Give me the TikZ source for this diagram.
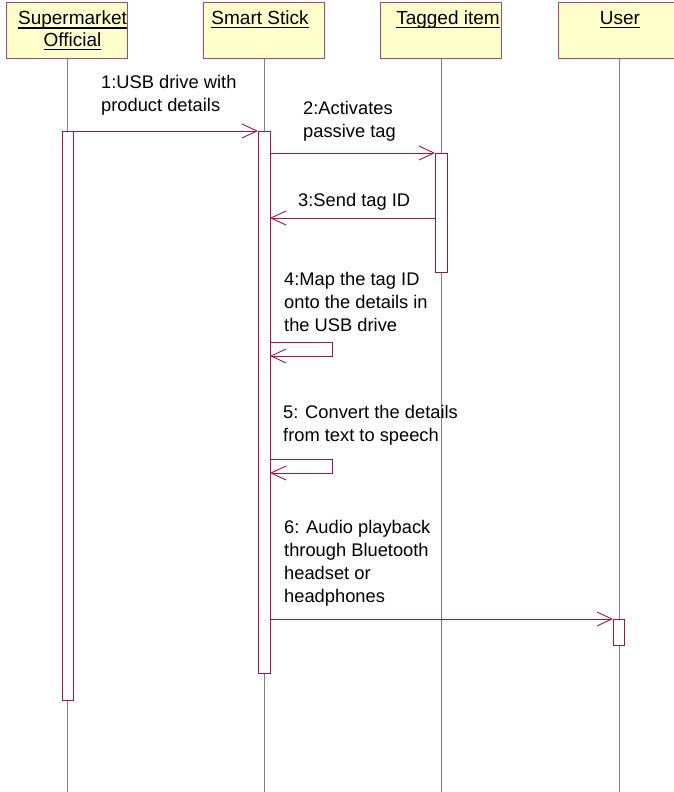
\documentclass[tikz,border=0pt]{standalone}
\usepackage{fontspec}
\setmainfont{Liberation Sans}
\usetikzlibrary{arrows.meta}
\definecolor{umlred}{HTML}{A31447}
\definecolor{umlfill}{HTML}{FFFFCC}
\newcommand\myul[1]{\setbox0\hbox{#1}\rlap{\raisebox{-3.5pt}{\rule{\wd0}{1.3pt}}}\box0}
\begin{document}
\begin{tikzpicture}[x=1pt,y=-1pt,
  head/.style={draw=umlred!80,fill=umlfill,line width=0.8pt,minimum width=121pt,minimum height=56pt,anchor=north,inner sep=0pt},
  headtxt/.style={anchor=base,align=center,font=\fontsize{19}{22}\selectfont,inner sep=0pt},
  life/.style={draw=gray,line width=0.8pt},
  bar/.style={draw=umlred,fill=white,line width=0.9pt},
  msg/.style={draw=umlred,line width=0.9pt,-{Straight Barb[length=15pt,width=14pt]}},
  lbl/.style={anchor=base west,align=left,font=\fontsize{18.3}{22.8}\selectfont,inner sep=0pt}]
\useasboundingbox (0,0) rectangle (674,792);
% heads
\node[head] (hA) at (67,2) {};
\node[head] (hB) at (264,2) {};
\node[head] (hC) at (441,2) {};
\node[head] (hD) at (619,2) {};
\node[headtxt] (tA) at (72.5,47) {\myul{Supermarket}\\\myul{Official}};
\node[headtxt] (tB) at (260,25) {\myul{Smart Stick}};
\node[headtxt] (tC) at (448,25) {\myul{Tagged item}};
\node[headtxt] (tD) at (620,25) {\myul{User}};
% lifelines
\coordinate (eA) at (67,792);
\coordinate (eB) at (264,792);
\coordinate (eC) at (441,792);
\coordinate (eD) at (619,792);
\draw[life] (hA.south) -- (eA);
\draw[life] (hB.south) -- (eB);
\draw[life] (hC.south) -- (eC);
\draw[life] (hD.south) -- (eD);
% activation bars
\draw[bar] (62,131) rectangle (73,700);
\draw[bar] (258,131) rectangle (270,673);
\draw[bar] (435,153) rectangle (447,272);
\draw[bar] (613,619) rectangle (624,645);
\coordinate (m1s) at (73,131); \coordinate (m1e) at (258,131);
\coordinate (m2s) at (270,153); \coordinate (m2e) at (435,153);
\coordinate (m3s) at (435,218); \coordinate (m3e) at (270,218);
\coordinate (m4s) at (270,342); \coordinate (m4e) at (270,356);
\coordinate (m5s) at (270,459); \coordinate (m5e) at (270,473);
\coordinate (m6s) at (270,619); \coordinate (m6e) at (613,619);
% messages
\draw[msg] (m1s) -- (m1e);
\draw[msg] (m2s) -- (m2e);
\draw[msg] (m3s) -- (m3e);
\draw[msg] (m4s) -- ++(62,0) |- (m4e);
\draw[msg] (m5s) -- ++(62,0) |- (m5e);
\draw[msg] (m6s) -- (m6e);
% labels
\node[lbl] (l1) at (101,111) {1:USB drive with\\product details};
\node[lbl] (l2) at (303,137) {2:Activates\\passive tag};
\node[lbl] (l3) at (298,206) {3:Send tag ID};
\node[lbl] (l4) at (284,331) {4:Map the tag ID\\onto the details in\\the USB drive};
\node[lbl] (l5) at (283,441) {5: Convert the details\\from text to speech};
\node[lbl] (l6) at (284,602) {6: Audio playback\\through Bluetooth\\headset or\\headphones};
\end{tikzpicture}
\end{document}
